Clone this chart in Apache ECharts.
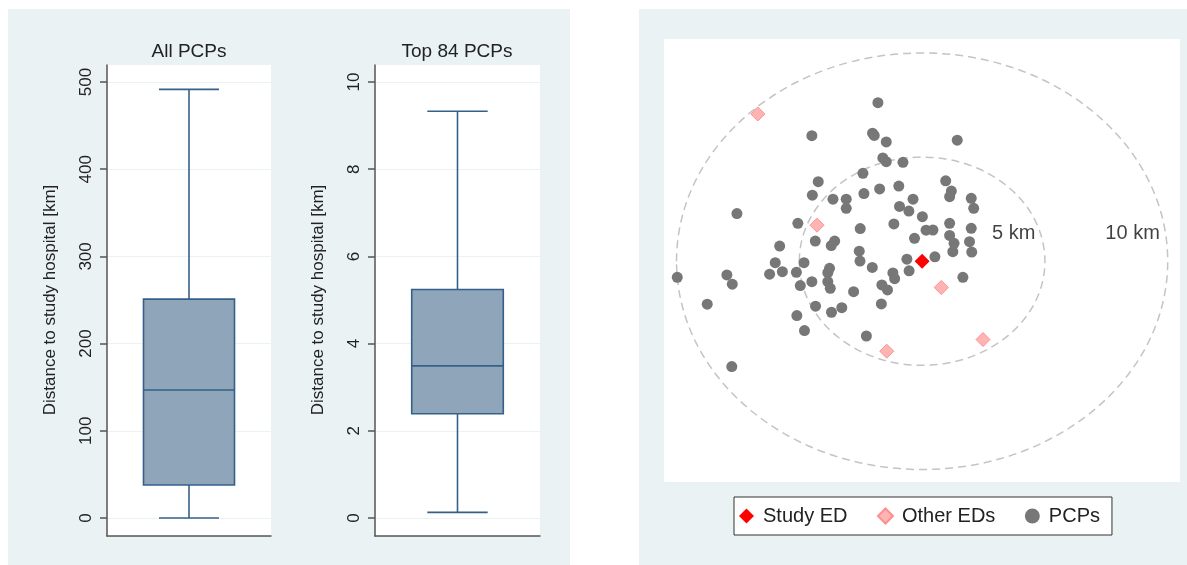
<!DOCTYPE html>
<html><head><meta charset="utf-8">
<script src="https://cdn.jsdelivr.net/npm/echarts@6/dist/echarts.min.js"></script>
<style>html,body{margin:0;padding:0;background:#fff}#c{width:1187px;height:565px}</style>
</head><body><div id="c"></div>
<script>
// ---- data ----
const panelTitles = ['All PCPs', 'Top 84 PCPs'];
const yAxisTitle = 'Distance to study hospital [km]';
// [min, Q1, median, Q3, max]
const allPcpStats = [0, 37.8, 146.8, 251, 491.5];
const top84Stats = [0.13, 2.39, 3.49, 5.24, 9.33];
const allTicks = [0, 100, 200, 300, 400, 500];
const topTicks = [0, 2, 4, 6, 8, 10];

// map coordinates in km relative to the study ED
const studyED = [[0, 0]];
const otherEDs = [[-6.69, 7.07], [-4.28, 1.73], [0.78, -1.26], [-1.44, -4.32], [2.48, -3.76]];
const pcps = [
  [-9.97, -0.77], [-8.75, -2.06], [-7.95, -0.66], [-7.73, -1.10], [-7.75, -5.06], [-7.54, 2.29],
  [-6.21, -0.62], [-5.69, -0.50], [-5.98, -0.07], [-5.80, 0.73], [-5.12, -0.53], [-4.96, -1.17],
  [-5.10, -2.61], [-4.79, -3.33], [-5.06, 1.82], [-4.81, -0.07], [-4.49, -0.98], [-4.35, 0.97],
  [-4.34, -2.16], [-4.49, 6.03], [-4.23, 3.82], [-4.47, 3.17], [-3.63, 2.98], [-3.09, 2.98],
  [-3.09, 2.54], [-3.56, 0.97], [-3.70, 0.75], [-3.77, -0.34], [-3.84, -0.55], [-3.84, -0.98],
  [-3.74, -1.30], [-3.69, -2.45], [-3.27, -2.23], [-2.79, -1.46],
  [-1.80, 7.61], [-2.02, 6.15], [-1.95, 6.04], [-1.46, 5.73], [1.43, 5.81], [-1.60, 4.96],
  [-1.46, 4.78], [-0.78, 4.75], [-2.41, 4.22], [-2.37, 3.25], [-1.73, 3.47], [-0.95, 3.61],
  [-0.37, 2.98], [-0.92, 2.63], [-0.54, 2.41], [0.01, 2.14], [0.96, 3.86], [1.19, 3.37],
  [1.12, 3.10], [2.00, 3.02], [2.10, 2.54],
  [-2.52, 1.57], [-1.15, 1.79], [0.16, 1.49], [0.44, 1.50], [-0.31, 1.10], [1.12, 1.82],
  [1.12, 1.24], [1.30, 0.86], [1.25, 0.46], [2.00, 1.58], [1.93, 0.94], [2.02, 0.44],
  [-2.56, 0.48], [-2.53, 0.01], [-2.03, -0.30], [-0.62, 0.10], [0.52, 0.21], [-0.53, -0.46],
  [-1.19, -0.56], [-1.12, -0.84], [-1.64, -1.14], [-1.41, -1.38], [-1.66, -2.05], [1.66, -0.77],
  [-2.27, -3.59]
];
const ringRadii = [5, 10];
const ringLabels = [[3.73, 1.31, '5 km'], [8.57, 1.31, '10 km']];
const legendNames = ['Study ED', 'Other EDs', 'PCPs'];

// ---- style ----
const FONT = '"Liberation Sans", Arial, sans-serif';
const BG = '#eaf2f3';
const AXIS = '#555';
const BOX_FILL = '#8fa5b9';
const BOX_LINE = '#35608a';

const chart = echarts.init(document.getElementById('c'), null, {renderer: 'canvas'});

function boxRender(params, api) {
  const x = api.value(0);
  const c = api.coord([x, api.value(3)]);
  const band = api.size([1, 0])[0];
  const bw = band * 0.555, cw = band * 0.366;
  const yMin = api.coord([x, api.value(1)])[1];
  const yQ1 = api.coord([x, api.value(2)])[1];
  const yMed = c[1];
  const yQ3 = api.coord([x, api.value(4)])[1];
  const yMax = api.coord([x, api.value(5)])[1];
  const cx = c[0];
  const ls = {stroke: BOX_LINE, lineWidth: 1.6, fill: null};
  return {
    type: 'group',
    children: [
      {type: 'line', shape: {x1: cx, y1: yQ3, x2: cx, y2: yMax}, style: ls},
      {type: 'line', shape: {x1: cx, y1: yQ1, x2: cx, y2: yMin}, style: ls},
      {type: 'line', shape: {x1: cx - cw / 2, y1: yMax, x2: cx + cw / 2, y2: yMax}, style: ls},
      {type: 'line', shape: {x1: cx - cw / 2, y1: yMin, x2: cx + cw / 2, y2: yMin}, style: ls},
      {type: 'rect', shape: {x: cx - bw / 2, y: yQ3, width: bw, height: yQ1 - yQ3},
        style: {fill: BOX_FILL, stroke: BOX_LINE, lineWidth: 1.6}},
      {type: 'line', shape: {x1: cx - bw / 2, y1: yMed, x2: cx + bw / 2, y2: yMed}, style: ls}
    ]
  };
}

function frameAxes(gi) {
  return {
    x: {type: 'value', gridIndex: gi, min: 0, max: 1, axisLine: {show: true, lineStyle: {color: AXIS, width: 1.5}},
      axisTick: {show: false}, axisLabel: {show: false}, splitLine: {show: false}},
    y: {type: 'value', gridIndex: gi, min: 0, max: 1, axisLine: {show: true, lineStyle: {color: AXIS, width: 1.5}},
      axisTick: {show: false}, axisLabel: {show: false}, splitLine: {show: false}}
  };
}
function dataAxes(gi, cat, ticks) {
  return {
    x: {type: 'category', gridIndex: gi, data: [cat], show: false, boundaryGap: true},
    y: {type: 'value', gridIndex: gi, min: ticks[0], max: ticks[ticks.length - 1],
      interval: ticks[1] - ticks[0],
      name: yAxisTitle, nameLocation: 'middle', nameGap: 48,
      nameTextStyle: {fontFamily: FONT, fontSize: 17, color: '#222'},
      axisLine: {show: false},
      axisTick: {show: true, length: 7, lineStyle: {color: AXIS, width: 1.5}},
      axisLabel: {rotate: 90, margin: 12, fontFamily: FONT, fontSize: 17, color: '#222'},
      splitLine: {show: true, lineStyle: {color: BG, width: 1.2}}}
  };
}
const f1 = frameAxes(0), d1 = dataAxes(1, panelTitles[0], allTicks);
const f2 = frameAxes(2), d2 = dataAxes(3, panelTitles[1], topTicks);

const option = {
  animation: false,
  backgroundColor: '#fff',
  graphic: [
    {type: 'rect', z: -100, shape: {x: 8, y: 9, width: 562, height: 556}, style: {fill: BG}},
    {type: 'rect', z: -100, shape: {x: 639, y: 9, width: 548, height: 556}, style: {fill: BG}}
  ],
  title: [
    {text: panelTitles[0], left: 189, top: 42, textAlign: 'center', padding: 0,
      textStyle: {fontFamily: FONT, fontSize: 19, fontWeight: 'normal', color: '#222'}},
    {text: panelTitles[1], left: 457, top: 42, textAlign: 'center', padding: 0,
      textStyle: {fontFamily: FONT, fontSize: 19, fontWeight: 'normal', color: '#222'}}
  ],
  grid: [
    {left: 107, top: 65, width: 164, height: 471, show: true, backgroundColor: '#fff', borderWidth: 0},
    {left: 107, top: 82, width: 164, height: 436},
    {left: 375, top: 65, width: 165, height: 471, show: true, backgroundColor: '#fff', borderWidth: 0},
    {left: 375, top: 82, width: 165, height: 436},
    {left: 664, top: 39, width: 516, height: 443, show: true, backgroundColor: '#fff', borderWidth: 0}
  ],
  xAxis: [f1.x, d1.x, f2.x, d2.x,
    {type: 'value', gridIndex: 4, min: -10.51, max: 10.5, show: false}],
  yAxis: [f1.y, d1.y, f2.y, d2.y,
    {type: 'value', gridIndex: 4, min: -10.6, max: 10.67, show: false}],
  legend: {
    data: legendNames,
    left: 734, top: 497,
    orient: 'horizontal',
    itemWidth: 15, itemHeight: 15, itemGap: 29.5,
    padding: [9, 12, 9, 5],
    borderColor: '#333', borderWidth: 1, backgroundColor: '#fff',
    textStyle: {fontFamily: FONT, fontSize: 20, color: '#222', padding: [0, 0, 0, 4]}
  },
  series: [
    {type: 'custom', xAxisIndex: 1, yAxisIndex: 1, renderItem: boxRender,
      data: [[0].concat(allPcpStats)], encode: {x: 0, y: [1, 2, 3, 4, 5]}, silent: true},
    {type: 'custom', xAxisIndex: 3, yAxisIndex: 3, renderItem: boxRender,
      data: [[0].concat(top84Stats)], encode: {x: 0, y: [1, 2, 3, 4, 5]}, silent: true},
    {type: 'custom', name: 'rings', xAxisIndex: 4, yAxisIndex: 4, silent: true, z: 1,
      data: ringRadii.map(r => [0, 0, r]), encode: {x: 0, y: 1},
      renderItem: function (params, api) {
        const c = api.coord([api.value(0), api.value(1)]);
        const s = api.size([api.value(2), api.value(2)]);
        return {type: 'ellipse', shape: {cx: c[0], cy: c[1], rx: s[0], ry: s[1]},
          style: {fill: null, stroke: '#c4c4c4', lineWidth: 1.5, lineDash: [8, 5]}};
      }},
    {type: 'scatter', name: 'ringLabels', xAxisIndex: 4, yAxisIndex: 4, silent: true,
      data: ringLabels, symbolSize: 0,
      label: {show: true, position: 'inside', formatter: p => p.value[2],
        fontFamily: FONT, fontSize: 20, color: '#111'}},
    {type: 'scatter', name: 'PCPs', xAxisIndex: 4, yAxisIndex: 4, z: 3,
      data: pcps, symbol: 'circle', symbolSize: 11,
      itemStyle: {color: '#777777', opacity: 1}},
    {type: 'scatter', name: 'Other EDs', xAxisIndex: 4, yAxisIndex: 4, z: 4,
      data: otherEDs, symbol: 'diamond', symbolSize: 14,
      itemStyle: {color: '#ffb4b4', borderColor: '#ff8f8f', borderWidth: 1, opacity: 1}},
    {type: 'scatter', name: 'Study ED', xAxisIndex: 4, yAxisIndex: 4, z: 5,
      data: studyED, symbol: 'diamond', symbolSize: 15,
      itemStyle: {color: '#ff0000', opacity: 1}}
  ]
};
chart.setOption(option);
</script>
</body></html>
